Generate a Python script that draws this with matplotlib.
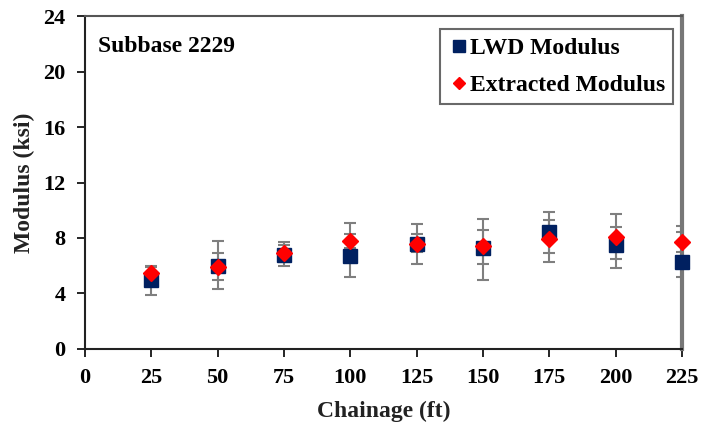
import numpy as np
import matplotlib.pyplot as plt

# chainage positions (ft)
chainage = [25, 50, 75, 100, 125, 150, 175, 200, 225]

# LWD modulus (ksi) with error range
lwd = [5.0, 6.0, 6.8, 6.7, 7.6, 7.3, 8.4, 7.5, 6.3]
lwd_lo = [3.9, 4.3, 6.0, 5.2, 6.1, 5.0, 6.3, 5.8, 5.2]
lwd_hi = [6.0, 7.8, 7.7, 9.1, 9.0, 9.4, 9.9, 9.7, 8.9]

# extracted modulus (ksi) with error range
ext = [5.5, 5.9, 6.9, 7.8, 7.6, 7.4, 7.9, 8.1, 7.7]
ext_lo = [5.1, 5.0, 6.3, 7.3, 7.0, 6.1, 6.9, 6.5, 7.0]
ext_hi = [5.9, 6.9, 7.5, 8.3, 8.3, 8.6, 9.3, 8.8, 8.4]

xticks = [0, 25, 50, 75, 100, 125, 150, 175, 200, 225]
yticks = [0, 4, 8, 12, 16, 20, 24]

plt.rcParams['font.family'] = ['Liberation Serif', 'DejaVu Serif']
plt.rcParams['font.weight'] = 'bold'

fig = plt.figure(figsize=(7.01, 4.26), dpi=100)
ax = fig.add_axes([0.121, 0.181, 0.852, 0.781])

x = np.array(chainage)
lwd = np.array(lwd)
ext = np.array(ext)

# error bars first so markers sit on top
ax.errorbar(x, lwd, yerr=[lwd - np.array(lwd_lo), np.array(lwd_hi) - lwd],
            fmt='none', ecolor='#7f7f7f', elinewidth=1.5, capsize=4, capthick=1.5, zorder=2)
ax.errorbar(x, ext, yerr=[ext - np.array(ext_lo), np.array(ext_hi) - ext],
            fmt='none', ecolor='#7f7f7f', elinewidth=1.5, capsize=4, capthick=1.5, zorder=2)

ax.plot(x, lwd, 's', color='#002060', markersize=10, label='LWD Modulus', zorder=3, clip_on=False)
ax.plot(x, ext, 'D', color='#ff0000', markersize=8, label='Extracted Modulus', zorder=4, clip_on=False)

ax.set_xlim(0, 225)
ax.set_ylim(0, 24)
ax.set_xticks(xticks)
ax.set_yticks(yticks)
ax.tick_params(direction='out', length=6, width=1.2, labelsize=16, pad=8)
for s in ['left', 'bottom']:
    ax.spines[s].set_linewidth(1.5)
    ax.spines[s].set_color('#222222')
ax.spines['top'].set_color('#555555')
ax.spines['right'].set_color('#777777')
ax.spines['right'].set_linewidth(3)
ax.spines['top'].set_linewidth(1.5)

ax.set_xlabel('Chainage (ft)', fontsize=17, fontweight='bold', color='#222222', labelpad=9)
ax.set_ylabel('Modulus (ksi)', fontsize=17, fontweight='bold', color='#222222', labelpad=6)

ax.text(0.022, 0.91, 'Subbase 2229', transform=ax.transAxes, fontsize=17,
        fontweight='bold', va='center', ha='left')

leg = ax.legend(loc='upper right', fontsize=17, handletextpad=0.0, handlelength=0.9,
                borderpad=0.35, labelspacing=0.65, fancybox=False, edgecolor='#444444',
                bbox_to_anchor=(0.985, 0.96), markerscale=0.8, borderaxespad=0.0)
leg.get_frame().set_linewidth(1.5)

fig.savefig('out.png', dpi=100)
